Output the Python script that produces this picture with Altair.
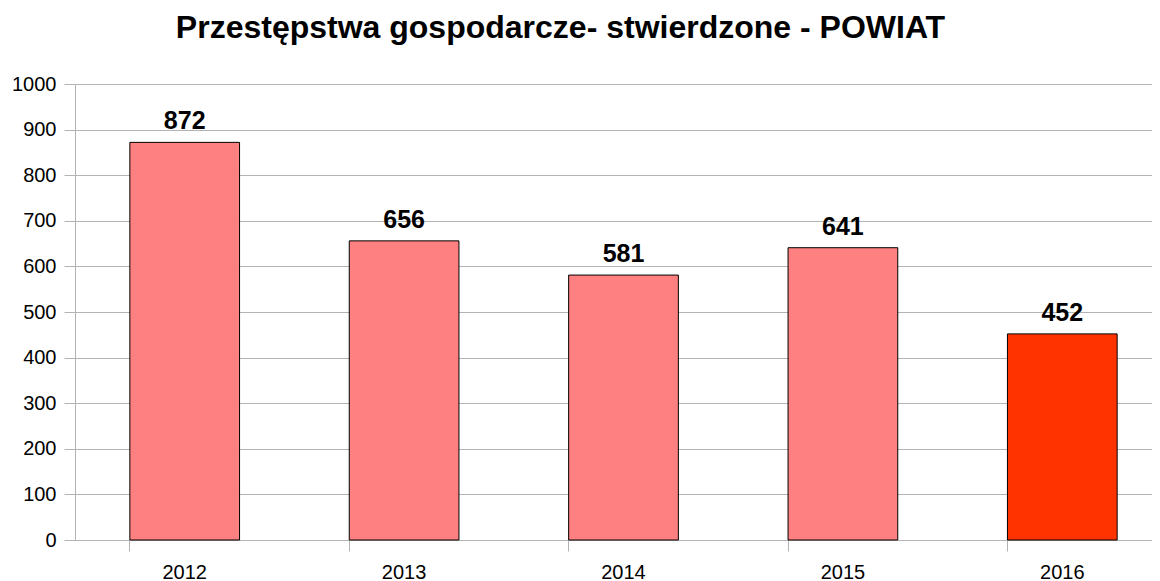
import altair as alt
import pandas as pd

years = ["2012", "2013", "2014", "2015", "2016"]
values = [872, 656, 581, 641, 452]
colors = ["#FF8080", "#FF8080", "#FF8080", "#FF8080", "#FF3300"]

df = pd.DataFrame({"year": years, "value": values, "color": colors})

FONT = "Liberation Sans"

base = alt.Chart(df).encode(
    x=alt.X("year:N", sort=years, title=None,
            scale=alt.Scale(paddingInner=0.5, paddingOuter=0.25, range=[0, 1097]),
            axis=alt.Axis(labelAngle=0, labelFontSize=20, labelFont=FONT, labelColor="#000000",
                          bandPosition=0, tickSize=11, tickColor="#b3b3b3", domainColor="#b3b3b3",
                          labelPadding=11, grid=False)),
)

bars = base.mark_bar(stroke="#000000", strokeWidth=1).encode(
    y=alt.Y("value:Q", title=None,
            scale=alt.Scale(domain=[0, 1000], nice=False),
            axis=alt.Axis(values=list(range(0, 1001, 100)), format="d", labelFontSize=20,
                          labelFont=FONT, labelColor="#000000", tickSize=11, tickColor="#b3b3b3",
                          domainColor="#b3b3b3", gridColor="#b3b3b3", labelPadding=8)),
    color=alt.Color("color:N", scale=None),
)

labels = base.mark_text(baseline="alphabetic", dy=-13, fontSize=25, fontWeight="bold", font=FONT,
                        color="#000000").encode(
    y=alt.Y("value:Q"),
    text=alt.Text("value:Q"),
)

chart = (bars + labels).properties(
    width=1077, height=456,
    autosize=alt.AutoSizeParams(type="none"),
    padding={"left": 67, "top": 76, "right": 0, "bottom": 42},
    title=alt.TitleParams("Przestępstwa gospodarcze- stwierdzone - POWIAT", fontSize=32,
                          font=FONT, fontWeight="bold", color="#000000", anchor="middle",
                          dx=-53, offset=29),
).configure_view(stroke=None)

chart.save("out.html", embed_options={"renderer": "svg", "actions": False})
